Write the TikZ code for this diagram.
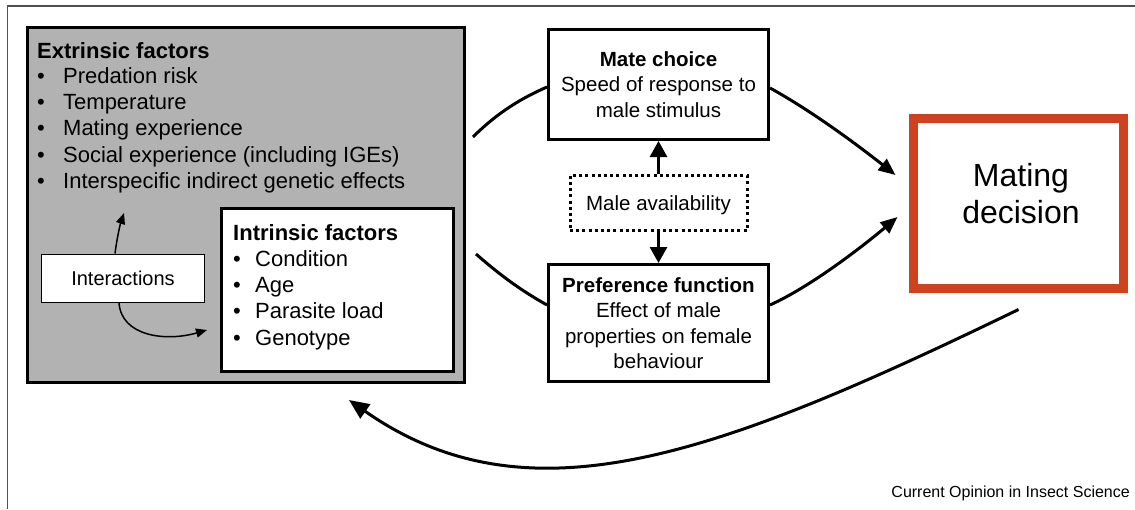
\documentclass[tikz,border=0pt]{standalone}
\usepackage{fontspec}
\setmainfont{Liberation Sans}
\usetikzlibrary{arrows.meta,calc}
\definecolor{boxgray}{RGB}{178,178,178}
\definecolor{mdred}{RGB}{207,66,32}
\definecolor{framegray}{RGB}{80,80,80}
\newcommand{\bitemA}[1]{\makebox[26pt][l]{\textbullet}#1}
\newcommand{\bitemB}[1]{\makebox[22pt][l]{\textbullet}#1}
\begin{document}
\begin{tikzpicture}[x=1pt,y=-1pt,
  thickbox/.style={draw,line width=3pt,inner sep=0pt,align=center,
    font=\fontsize{20.5}{25.5}\selectfont},
  listtext/.style={inner sep=0pt,align=left,anchor=north west,
    font=\fontsize{22}{26.4}\selectfont},
  conn/.style={line width=3pt,-{Triangle[length=17pt,width=14pt]}},
  plainconn/.style={line width=3pt},
  vconn/.style={line width=3pt,-{Triangle[length=16pt,width=17pt]}},
  thinconn/.style={line width=1.5pt,-{Triangle[length=11pt,width=9pt]}}
]
\useasboundingbox (0,0) rectangle (1135,509);
% outer frame
\draw[framegray,line width=1.5pt] (7.5,509) -- (7.5,6) -- (1135,6);

% extrinsic (grey) box
\node[draw,line width=3pt,fill=boxgray,inner sep=0pt,
  minimum width=437pt,minimum height=355pt] (ext) at (246,205) {};
\node[listtext] (extlist) at (37,42) {\textbf{Extrinsic factors}\\[-1.5pt]
  \bitemA{Predation risk}\\
  \bitemA{Temperature}\\
  \bitemA{Mating experience}\\
  \bitemA{Social experience (including IGEs)}\\
  \bitemA{Interspecific indirect genetic effects}};

% intrinsic box
\node[draw,line width=3pt,fill=white,inner sep=0pt,
  minimum width=232pt,minimum height=163pt] (intr) at (337.5,290) {};
\node[listtext] (intrlist) at (233,224) {\textbf{Intrinsic factors}\\[-0.5pt]
  \bitemB{Condition}\\
  \bitemB{Age}\\
  \bitemB{Parasite load}\\
  \bitemB{Genotype}};

% interactions box
\node[draw,line width=1pt,fill=white,inner sep=0pt,
  minimum width=163pt,minimum height=48pt,
  font=\fontsize{20}{24}\selectfont] (inter) at (123,278) {Interactions};
\coordinate (intup) at (124,213);
\coordinate (intdown) at (207,330);
\draw[thinconn] ($(inter.north)+(-8,0)$) .. controls (117,238) and (120,225) .. (intup);
\draw[thinconn] ($(inter.south)+(-4,0)$) .. controls (121,336) and (165,342) .. (intdown);

% mate choice box
\node[thickbox,fill=white,minimum width=220pt,minimum height=110pt] (mate) at (658.5,84.5)
  {\textbf{Mate choice}\\Speed of response to\\male stimulus};
% preference function box
\node[thickbox,fill=white,minimum width=220pt,minimum height=117pt] (pref) at (658.5,323)
  {\textbf{Preference function}\\Effect of male\\properties on female\\behaviour};
% male availability
\node[draw,line width=3pt,dash pattern=on 3pt off 3.2pt,inner sep=0pt,
  minimum width=177pt,minimum height=55pt,text depth=0pt,
  font=\fontsize{20.5}{24}\selectfont] (avail) at (658.5,203) {Male availability};
\draw[vconn] (avail.north) -- (mate.south);
\draw[vconn] (avail.south) -- (pref.north);

% mating decision
\node[draw=mdred,line width=9pt,fill=white,inner sep=0pt,
  minimum width=210pt,minimum height=170pt] (md) at (1018.5,203.5) {};
\node[inner sep=0pt,align=center,font=\fontsize{32}{37}\selectfont] (mdtext)
  at (1021,193.5) {Mating\\decision};

% arcs
\coordinate (tl) at (473,137);
\coordinate (bl) at (476,254);
\coordinate (tr) at ($(md.west)+(-13.5,-28.5)$);
\coordinate (br) at ($(md.west)+(-11.5,13.5)$);
\draw[plainconn] (tl) .. controls (498,112) and (522,98) .. ($(mate.west)+(0,2.5)$);
\draw[conn] ($(mate.east)+(0,3.5)$) .. controls (810,110) and (855,143) .. (tr);
\draw[plainconn] (bl) .. controls (501,276) and (522,291) .. ($(pref.west)+(0,-18)$);
\draw[conn] ($(pref.east)+(0,-18)$) .. controls (810,287) and (862,247) .. (br);

% feedback arrow
\coordinate (fbstart) at ($(md.south)+(0,16.5)$);
\coordinate (fbend) at (349,400);
\draw[line width=3pt,-{Triangle[length=20pt,width=17pt]}]
  (fbstart) .. controls (718,455) and (529,526) .. (fbend);

% footer
\node[inner sep=0pt,anchor=base east,font=\fontsize{16}{19}\selectfont] (footer)
  at (1130,497) {Current Opinion in Insect Science};
\end{tikzpicture}
\end{document}
